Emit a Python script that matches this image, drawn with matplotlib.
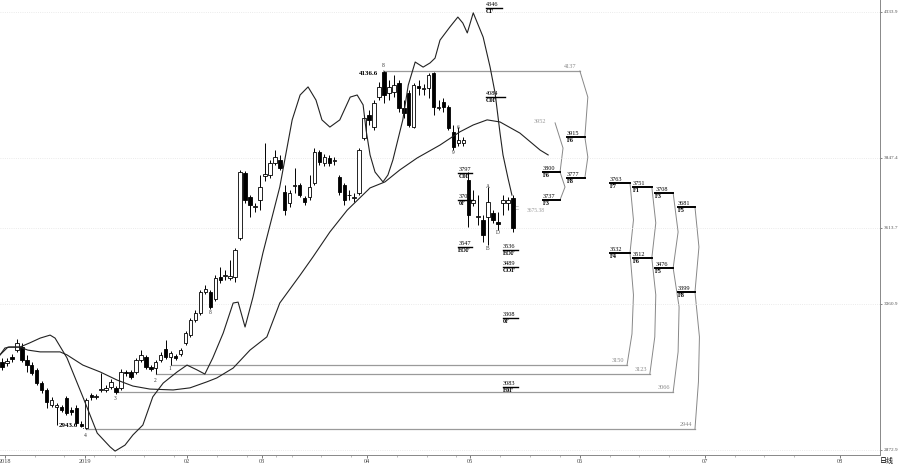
import matplotlib.pyplot as plt
from matplotlib.ticker import FixedLocator

# daily candles, Dec 2018 .. mid May 2019 (index = trading day)
opens = [3166, 3163, 3183, 3206, 3216, 3173, 3156, 3140, 3096, 3073,
         3023, 3016, 3016, 3046, 3006, 3013, 2959, 2946, 3056, 3048,
         3073, 3073, 3083, 3080, 3080, 3133, 3133, 3133, 3173, 3183,
         3150, 3146, 3173, 3210, 3183, 3186, 3193, 3230, 3256, 3306,
         3330, 3400, 3400, 3376, 3450, 3453, 3446, 3450, 3580, 3797,
         3717, 3683, 3707, 3787, 3790, 3830, 3840, 3733, 3697, 3755,
         3757, 3713, 3717, 3763, 3867, 3830, 3847, 3838, 3783, 3757,
         3725, 3715, 3730, 3913, 3990, 3950, 4050, 4134, 4064, 4067,
         4097, 4014, 4064, 3950, 4087, 4077, 4080, 4130, 4015, 4034,
         4017, 3934, 3897, 3897, 3773, 3697, 3650, 3640, 3650, 3663,
         3632, 3697, 3697, 3713]
closes = [3150, 3170, 3176, 3230, 3173, 3156, 3130, 3096, 3073, 3033,
          3040, 3023, 3006, 2996, 3000, 2963, 2953, 3040, 3050, 3052,
          3076, 3080, 3100, 3066, 3133, 3130, 3116, 3173, 3190, 3150,
          3143, 3166, 3190, 3183, 3196, 3180, 3206, 3263, 3306, 3330,
          3400, 3410, 3350, 3446, 3440, 3458, 3452, 3540, 3800, 3707,
          3690, 3687, 3750, 3792, 3830, 3850, 3813, 3673, 3730, 3757,
          3723, 3700, 3750, 3867, 3833, 3850, 3830, 3841, 3733, 3707,
          3722, 3718, 3873, 3980, 3973, 4030, 4084, 4057, 4084, 4090,
          4014, 3997, 3957, 4090, 4080, 4080, 4124, 4017, 4018, 4017,
          3947, 3884, 3907, 3907, 3657, 3707, 3652, 3590, 3700, 3640,
          3628, 3707, 3707, 3613]
highs = [3180, 3180, 3193, 3243, 3230, 3190, 3166, 3146, 3103, 3080,
         3050, 3030, 3023, 3053, 3016, 3023, 2969, 3046, 3063, 3060,
         3130, 3090, 3110, 3086, 3143, 3140, 3140, 3180, 3206, 3190,
         3156, 3173, 3200, 3240, 3203, 3193, 3213, 3270, 3313, 3340,
         3406, 3423, 3406, 3456, 3483, 3473, 3506, 3546, 3807, 3803,
         3723, 3697, 3790, 3897, 3840, 3873, 3857, 3757, 3740, 3813,
         3763, 3720, 3790, 3880, 3873, 3860, 3857, 3850, 3790, 3763,
         3740, 3730, 3880, 3990, 4007, 4040, 4100, 4137, 4107, 4124,
         4107, 4040, 4074, 4097, 4107, 4094, 4130, 4134, 4040, 4047,
         4024, 3957, 3950, 3917, 3800, 3740, 3723, 3657, 3750, 3673,
         3667, 3723, 3717, 3723]
lows = [3140, 3153, 3166, 3200, 3166, 3133, 3123, 3090, 3063, 3013,
        3016, 2956, 3000, 2989, 2989, 2956, 2950, 2943, 3040, 3043,
        3066, 3066, 3076, 3060, 3073, 3120, 3110, 3126, 3166, 3143,
        3136, 3126, 3166, 3176, 3156, 3173, 3186, 3223, 3250, 3300,
        3323, 3393, 3343, 3370, 3430, 3440, 3440, 3433, 3573, 3697,
        3650, 3667, 3673, 3770, 3780, 3823, 3807, 3657, 3683, 3730,
        3717, 3690, 3707, 3757, 3823, 3820, 3820, 3823, 3723, 3690,
        3707, 3700, 3723, 3907, 3957, 3940, 4040, 4030, 4040, 4050,
        4000, 3980, 3950, 3947, 4057, 4057, 4047, 3990, 4007, 4000,
        3940, 3873, 3887, 3887, 3617, 3687, 3623, 3567, 3557, 3630,
        3607, 3657, 3673, 3600]

# swing curve
wave_x = [-0.4, 0.6, 1.6, 3.6, 5.6, 7.7, 9.7, 10.7, 13.1, 16.3, 19.2, 21.8, 22.8,
          24.2, 24.8, 26.4, 28.4, 30.4, 32.5, 35.3, 37.3, 39.3, 40.9, 42.5, 44.6,
          46.6, 47.6, 49.0, 50.6, 52.6, 56.0, 58.5, 60.1, 61.7, 63.3, 64.5, 66.1,
          68.1, 70.2, 71.6, 72.8, 73.4, 74.2, 75.2, 76.8, 77.8, 78.8, 80.8, 81.9,
          83.3, 84.9, 86.3, 87.3, 88.3, 90.3, 91.9, 92.9, 93.8, 95.0, 97.0, 98.4,
          99.4, 100.4, 101.0, 102.0, 102.8]
wave_y = [3190, 3213, 3216, 3216, 3230, 3246, 3256, 3246, 3180, 3050, 2929, 2883, 2869,
          2883, 2889, 2923, 2956, 3050, 3096, 3133, 3156, 3140, 3126, 3180, 3263,
          3363, 3366, 3283, 3383, 3530, 3750, 3974, 4057, 4084, 4040, 3974, 3950,
          3974, 4050, 4057, 4024, 3940, 3857, 3800, 3767, 3790, 3840, 3974, 4090,
          4167, 4150, 4164, 4180, 4240, 4284, 4317, 4297, 4264, 4331, 4250, 4150,
          4064, 3930, 3857, 3780, 3723]

# moving average
ma_x = [-0.4, 1.2, 3.6, 5.2, 7.7, 11.7, 13.1, 16.3, 19.8, 23.2, 26.4, 29.8, 34.5,
        37.9, 41.3, 43.3, 46.6, 50.0, 53.4, 56.0, 60.1, 62.7, 66.1, 69.6, 74.2,
        77.2, 80.2, 83.7, 88.3, 92.3, 95.0, 97.8, 100.4, 104.4, 108.5, 110.1]
ma_y = [3190, 3216, 3216, 3206, 3200, 3200, 3190, 3156, 3133, 3106, 3086, 3076, 3073,
        3080, 3100, 3113, 3146, 3206, 3250, 3363, 3456, 3517, 3600, 3673, 3747,
        3767, 3807, 3847, 3890, 3934, 3957, 3974, 3967, 3930, 3873, 3857]

# horizontal projection lines: start index, end index, level, label
hl_start = [77, 34, 31, 23, 17]
hl_end = [116.5, 126.0, 130.6, 135.3, 139.7]
hl_level = [4137, 3156, 3126, 3066, 2943]
hl_text = ["4137", "3150", "3123", "3066", "2944"]

# arcs joining projection levels
arcs_x = [[116.5, 118.1, 117.5, 118.1, 117.5],
          [111.5, 113.1, 112.5, 113.5, 112.5],
          [126.0, 127.0, 127.3, 126.6, 127.3, 126.6],
          [130.6, 131.6, 131.8, 131.0, 131.8, 131.0],
          [135.3, 136.3, 136.5, 135.3, 136.3, 135.3],
          [139.7, 140.4, 140.6, 139.7, 140.5, 139.7]]
arcs_y = [[4137, 4050, 3917, 3850, 3780],
          [3964, 3880, 3800, 3750, 3707],
          [3156, 3260, 3390, 3530, 3640, 3763],
          [3126, 3250, 3390, 3513, 3630, 3750],
          [3066, 3200, 3350, 3480, 3600, 3730],
          [2943, 3100, 3250, 3400, 3550, 3683]]

# F targets
f_x0 = [113.9, 109.1, 113.9, 109.1, 122.6, 127.2, 131.7, 136.3, 122.6, 127.2, 131.7, 136.3]
f_x1 = [117.5, 112.5, 117.5, 112.5, 126.6, 131.0, 135.3, 139.7, 126.6, 131.0, 135.3, 139.7]
f_level = [3917, 3800, 3780, 3707, 3763, 3750, 3730, 3683, 3530, 3513, 3480, 3400]
f_value = ["3915", "3800", "3777", "3737", "3763", "3751", "3708", "3681",
           "3532", "3512", "3476", "3399"]
f_code = ["F6", "F6", "F8", "F3", "F7", "F1", "F3", "F5", "F4", "F6", "F5", "F8"]

# notes near the candles
n_x0 = [97.6, 97.6, 92.0, 92.0, 92.0, 101.0, 101.0, 101.0, 101.0]
n_x1 = [100.7, 101.4, 94.8, 94.8, 94.8, 104.0, 104.0, 104.0, 104.0]
n_level = [4347, 4050, 3797, 3707, 3550, 3540, 3483, 3313, 3083]
n_value = ["4346", "4084", "3797", "3707", "3547", "3536", "3489", "3308", "3083"]
n_code = ["CF", "C0F", "C0F", "0F", "EOF", "EOF", "COF", "0F", "E0F"]

# wave counts
w_x = [76.8, 91.9, 90.9, 33.9, 30.8, 22.8, 16.7, 41.9, 98.0, 98.0, 103.8, 100.0]
w_y = [4154, 3950, 3864, 3145, 3103, 3043, 2920, 3333, 3752, 3545, 3680, 3598]
w_text = ["8", "6", "9", "1", "2", "3", "4", "8", "A", "B", "C", "D"]

ytick_vals = [4333.9, 3847.4, 3613.7, 3360.9, 2872.9]
month_pos = [0.6, 16.7, 37.3, 52.4, 73.6, 94.4, 116.5, 141.7, 169.0]
month_lab = ["2018", "2019", "02", "03", "04", "05", "06", "07", "08"]

plt.rcParams['font.family'] = ['Liberation Serif', 'Noto Sans CJK SC', 'DejaVu Sans']

fig = plt.figure(figsize=(9, 4.68), dpi=100)
ax = fig.add_axes([0, 1 - 455 / 468, 880 / 900, 455 / 468])

idx = list(range(len(opens)))
ax.vlines(idx, lows, highs, color="black", lw=0.7, zorder=2)
for i in idx:
    o, c = opens[i], closes[i]
    h = max(abs(c - o), 3)
    if c < o:
        ax.bar(i, h, bottom=min(o, c), width=0.7, color="black", edgecolor="black",
               lw=0.6, zorder=3)
    else:
        ax.bar(i, h, bottom=min(o, c), width=0.7, color="white", edgecolor="black",
               lw=0.6, zorder=3)

ax.plot(wave_x, wave_y, color="#222222", lw=0.8, zorder=4)
ax.plot(ma_x, ma_y, color="#222222", lw=0.8, zorder=4)

for s, e, lv, t in zip(hl_start, hl_end, hl_level, hl_text):
    ax.plot([s, e], [lv, lv], color="#9a9a9a", lw=0.9, zorder=1)
    ax.text(e - 0.6, lv + 6, t, fontsize=4.5, color="#888888", ha="right", va="bottom")

for xs, ys in zip(arcs_x, arcs_y):
    ax.plot(xs, ys, color="#888888", lw=0.7, zorder=1)

ax.text(108.5, 3967, "3952", fontsize=4.5, color="#999999", ha="center", va="center")
ax.text(105.8, 3670, "3675.38", fontsize=4, color="#999999", ha="left", va="center")

for a, b, lv, v, c in zip(f_x0, f_x1, f_level, f_value, f_code):
    ax.plot([a, b], [lv, lv], color="black", lw=1.4, zorder=5)
    ax.text(a, lv + 4, v, fontsize=4.5, ha="left", va="bottom")
    ax.text(a, lv - 3, c, fontsize=4.5, ha="left", va="top", fontweight="bold")

for a, b, lv, v, c in zip(n_x0, n_x1, n_level, n_value, n_code):
    ax.plot([a, b], [lv, lv], color="black", lw=1.0, zorder=5)
    ax.text(a, lv + 4, v, fontsize=4.5, ha="left", va="bottom")
    ax.text(a, lv - 3, c, fontsize=4.5, ha="left", va="top", fontweight="bold")

for x, y, t in zip(w_x, w_y, w_text):
    ax.text(x, y, t, fontsize=4, ha="center", va="center", color="#333333")

ax.annotate("4136.6", xy=(77, highs[77]), xytext=(75.8, 4128), fontsize=5,
            fontweight="bold", ha="right", va="center",
            arrowprops=dict(arrowstyle="-", lw=0.6, color="black"))
ax.annotate("2943.6", xy=(17, lows[17]), xytext=(15.3, 2953), fontsize=5,
            fontweight="bold", ha="right", va="center",
            arrowprops=dict(arrowstyle="-", lw=0.6, color="black"))

ax.set_xlim(-0.4, 177.0)
ax.set_ylim(2856, 4373.9)

ax.yaxis.tick_right()
ax.set_yticks(ytick_vals)
ax.set_yticklabels([str(v) for v in ytick_vals])
ax.tick_params(axis="y", labelsize=3.8, length=1.5, width=0.5, colors="#555555", pad=1)
ax.grid(axis="y", color="#e4e4e4", linestyle=":", lw=0.6)

ax.xaxis.set_major_locator(FixedLocator(month_pos))
ax.set_xticklabels(month_lab)
ax.xaxis.set_minor_locator(FixedLocator([p + 6 * k for p in month_pos[:-1] for k in (1, 2, 3)]))
ax.tick_params(axis="x", which="major", labelsize=4.5, length=2, width=0.5,
               colors="#444444", pad=1)
ax.tick_params(axis="x", which="minor", length=1.5, width=0.4, colors="#888888")

for side in ["top", "left"]:
    ax.spines[side].set_visible(False)
ax.spines["right"].set_color("#888888")
ax.spines["bottom"].set_color("#888888")
ax.spines["right"].set_linewidth(0.7)
ax.spines["bottom"].set_linewidth(0.7)

fig.text(887 / 900, 1 - 461 / 468, "日线", fontsize=5, ha="center", va="center",
         family=['Noto Sans CJK SC', 'DejaVu Sans'])

fig.savefig("out.png", dpi=100, facecolor="white")
